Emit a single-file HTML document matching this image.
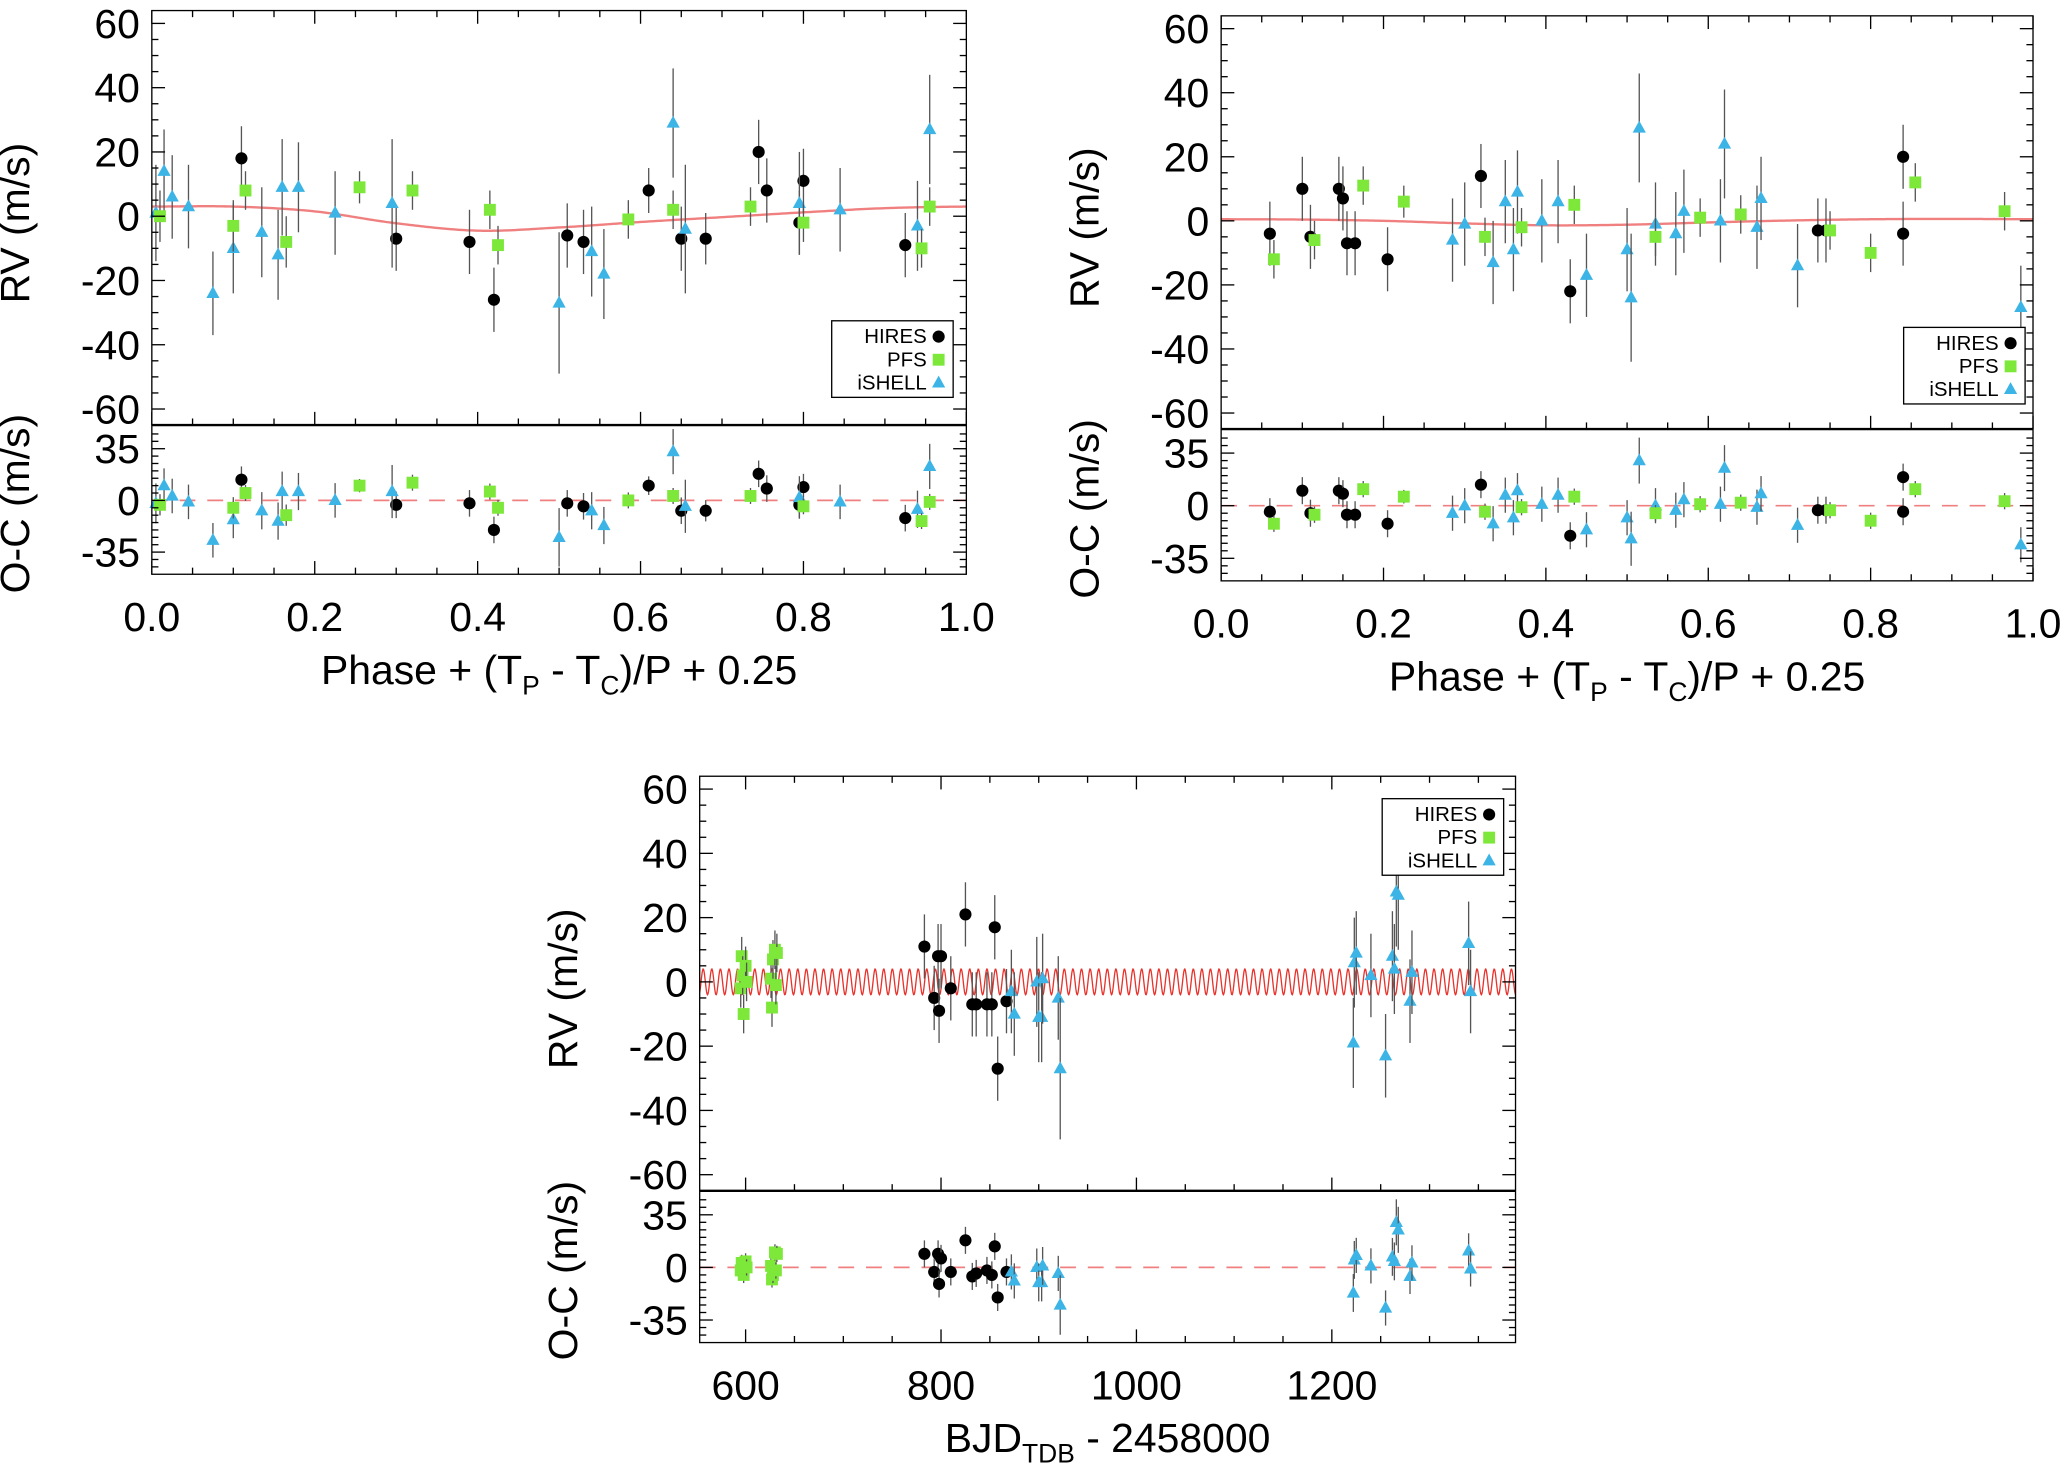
<!DOCTYPE html>
<html><head><meta charset="utf-8"><style>
html,body{margin:0;padding:0;background:#fff}
svg{display:block}
text{font-family:"Liberation Sans",Arial,sans-serif;fill:#000}
</style></head><body>
<svg id="fig" width="2070" height="1466" viewBox="0 0 1568 1110.5" xmlns="http://www.w3.org/2000/svg"></svg>
<script>
// ---- Panel 1 data (phase folded, planet b) ----
const p1HiresX=[0.11,0.30,0.39,0.42,0.51,0.53,0.61,0.65,0.68,0.745,0.755,0.795,0.80,0.925];
const p1HiresY=[18,-7,-8,-26,-6,-8,8,-7,-7,20,8,-2,11,-9];
const p1HiresE=[10,10,10,10,10,10,7,10,8,10,10,10,10,10];
const p1HiresOC=[14,-3,-2,-20,-2,-4,10,-7,-7,18,8,-3,9,-12];
const p1PfsX=[0.01,0.10,0.115,0.165,0.255,0.32,0.415,0.425,0.585,0.64,0.735,0.80,0.945,0.955];
const p1PfsY=[0,-3,8,-8,9,8,2,-9,-1,2,3,-2,-10,3];
const p1PfsE=[8,8,6,8,5,6,6,6,6,6,6,6,6,6];
const p1PfsOC=[-3,-5,5,-10,10,12,6,-5,0,3,3,-4,-14,-1];
const p1IshX=[0.005,0.015,0.025,0.045,0.075,0.10,0.135,0.155,0.16,0.18,0.225,0.295,0.50,0.54,0.555,0.64,0.655,0.795,0.845,0.94,0.955];
const p1IshY=[1,14,6,3,-24,-10,-5,-12,9,9,1,4,-27,-11,-18,29,-4,4,2,-3,27];
const p1IshE=[15,13,13,13,13,14,14,14,15,14,13,20,22,14,14,17,20,16,13,14,17];
const p1IshOC=[-2,10,3,-1,-27,-13,-7,-14,6,6,0,6,-25,-7,-17,33,-4,2,-1,-6,23];
const p1ModelX=[0,0.1,0.2,0.3,0.4,0.5,0.6,0.7,0.8,0.9,1.0];
const p1ModelY=[3,3,1.5,-2.2,-4.5,-3.5,-1.8,-0.3,1.2,2.5,3];
// ---- Panel 2 data (phase folded, planet c) ----
const p2HiresX=[0.06,0.10,0.11,0.145,0.15,0.155,0.165,0.205,0.32,0.43,0.735,0.745,0.84,0.84];
const p2HiresY=[-4,10,-5,10,7,-7,-7,-12,14,-22,-3,-3,20,-4];
const p2HiresE=[10,10,10,10,10,10,10,10,10,10,10,10,10,10];
const p2HiresOC=[-4,10,-5,10,8,-6,-6,-12,14,-20,-3,-3,19,-4];
const p2PfsX=[0.065,0.115,0.175,0.225,0.325,0.37,0.435,0.535,0.59,0.64,0.75,0.80,0.855,0.965];
const p2PfsY=[-12,-6,11,6,-5,-2,5,-5,1,2,-3,-10,12,3];
const p2PfsE=[6,6,6,5,6,6,6,6,6,6,6,6,6,6];
const p2PfsOC=[-12,-6,11,6,-4,-1,6,-5,1,2,-3,-10,11,3];
const p2IshX=[0.285,0.30,0.335,0.35,0.36,0.365,0.395,0.415,0.45,0.50,0.505,0.515,0.535,0.56,0.57,0.615,0.62,0.66,0.665,0.71,0.985];
const p2IshY=[-6,-1,-13,6,-9,9,0,6,-17,-9,-24,29,-1,-4,3,0,24,-2,7,-14,-27];
const p2IshE=[13,13,13,13,13,13,13,13,13,13,20,17,13,13,13,13,17,13,13,13,13];
const p2IshOC=[-5,0,-12,7,-8,10,1,7,-16,-8,-22,30,0,-3,4,1,25,-1,8,-13,-26];
const p2ModelX=[0,0.1,0.2,0.3,0.4,0.5,0.6,0.7,0.8,0.9,1.0];
const p2ModelY=[0.5,0.4,0,-0.8,-1.4,-1.2,-0.5,0.1,0.5,0.6,0.5];
// ---- Panel 3 data (time series) ----
const p3HiresX=[783,793,797,798,800,810,825,832,836,847,852,855,858,867];
const p3HiresY=[11,-5,8,-9,8,-2,21,-7,-7,-7,-7,17,-27,-6];
const p3HiresE=[10,10,10,10,10,10,10,10,10,10,10,10,10,10];
const p3HiresOC=[9,-3,9,-11,6,-3,18,-6,-4,-2,-5,14,-20,-3];
const p3PfsX=[595,596,597,598,600,601,626,627,628,630,631,632];
const p3PfsY=[-2,8,2,-10,5,0,1,-8,7,10,-1,9];
const p3PfsE=[6,6,6,6,6,6,6,6,6,6,6,6];
const p3PfsOC=[-2,3,1,-5,4,0,1,-8,-5,10,-2,9];
const p3IshX=[872,875,898,900,903,904,920,922,1222,1223,1225,1240,1255,1262,1264,1266,1268,1280,1282,1340,1342];
const p3IshY=[-3,-10,0,-11,-11,1,-5,-27,-19,6,9,2,-23,8,4,28,27,-6,3,12,-3];
const p3IshE=[13,13,14,14,14,14,13,22,14,14,13,13,13,14,14,17,17,13,13,13,13];
const p3IshOC=[-3,-9,0,-10,-10,1,-4,-25,-17,5,8,1,-27,7,4,30,25,-6,3,11,-1];
const p3ModelK=[4];
const p3ModelP=[8.8];

const NS="http://www.w3.org/2000/svg";
const svg=document.getElementById('fig');
function mk(tag,attrs,parent){const e=document.createElementNS(NS,tag);for(const k in attrs)e.setAttribute(k,attrs[k]);(parent||svg).appendChild(e);return e;}

function marker(g,type,x,y){
  let m;
  if(type==='hires'){m=mk('circle',{cx:x,cy:y,r:4.6,fill:'#000'},g);}
  else if(type==='pfs'){m=mk('rect',{x:x-4.5,y:y-4.5,width:9,height:9,fill:'#7de83a'},g);}
  else {m=mk('polygon',{points:`${x},${y-5.5} ${x+5},${y+3.5} ${x-5},${y+3.5}`,fill:'#3cb4e6'},g);}
  return m;
}

function panel(cfg){
  const g=mk('g',{});
  
  
  const L=cfg.L,R=cfg.R,T=cfg.T,M=cfg.M,B=cfg.B;
  const sx=v=>L+(v-cfg.x0)/(cfg.x1-cfg.x0)*(R-L);
  const sy=v=>T+(cfg.y1-v)/(cfg.y1-cfg.y0)*(M-T);
  const so=v=>M+(cfg.o1-v)/(cfg.o1-cfg.o0)*(B-M);
  // model
  const mg=mk('g',{},g);
  
  
  const cp=mk('clipPath',{id:cfg.name+'-clip'},svg);
  mk('rect',{x:L,y:T,width:R-L,height:M-T},cp);
  let d='';
  if(cfg.modelX){
    for(let i=0;i<=300;i++){
      const x=cfg.x0+(cfg.x1-cfg.x0)*i/300;
      // cubic interpolation through sampled model points
      const mx=cfg.modelX,my=cfg.modelY;let k=0;while(k<mx.length-2&&x>mx[k+1])k++;
      const t=(x-mx[k])/(mx[k+1]-mx[k]);
      const p0=my[Math.max(k-1,0)],p1=my[k],p2=my[k+1],p3=my[Math.min(k+2,my.length-1)];
      const y=0.5*((2*p1)+(-p0+p2)*t+(2*p0-5*p1+4*p2-p3)*t*t+(-p0+3*p1-3*p2+p3)*t*t*t);
      d+=(i?'L':'M')+sx(x).toFixed(2)+','+sy(y).toFixed(2);
    }
  } else {
    const K=p3ModelK[0],P=p3ModelP[0];
    for(let x=cfg.x0;x<=cfg.x1;x+=0.5){
      d+=(x===cfg.x0?'M':'L')+sx(x).toFixed(2)+','+sy(K*Math.sin(2*Math.PI*x/P)).toFixed(2);
    }
  }
  mk('path',{d:d,fill:'none',stroke:cfg.modelX?'#f08080':'#e8322c','stroke-width':cfg.modelX?1.8:1,'clip-path':`url(#${cfg.name}-clip)`},mg);
  // zero dashed in OC
  const zl=mk('line',{x1:L,x2:R,y1:so(0),y2:so(0),stroke:'#f08080','stroke-width':1.3,'stroke-dasharray':'12,9'},g);
  
  
  // series
  const series=[['hires',cfg.hX,cfg.hY,cfg.hE,cfg.hO],['ishell',cfg.iX,cfg.iY,cfg.iE,cfg.iO],['pfs',cfg.pX,cfg.pY,cfg.pE,cfg.pO]];
  series.forEach(s=>{
    const sg=mk('g',{},g);
    
    
    for(let i=0;i<s[1].length;i++){
      const x=sx(s[1][i]);
      mk('line',{x1:x,x2:x,y1:Math.max(T,sy(s[2][i]+s[3][i])),y2:Math.min(M,sy(s[2][i]-s[3][i])),stroke:'#555','stroke-width':1},sg);
      mk('line',{x1:x,x2:x,y1:Math.max(M,so(s[4][i]+s[3][i]*0.9)),y2:Math.min(B,so(s[4][i]-s[3][i]*0.9)),stroke:'#555','stroke-width':1},sg);
      const m=marker(sg,s[0],x,sy(s[2][i]));
      
      
      const m2=marker(sg,s[0],x,so(s[4][i]));
      
      
    }
  });
  // frames
  mk('rect',{x:L,y:T,width:R-L,height:B-T,fill:'none',stroke:'#000','stroke-width':1},g);
  mk('line',{x1:L,x2:R,y1:M,y2:M,stroke:'#000','stroke-width':1.8},g);
  // y ticks RV
  for(let v=-60;v<=60;v+=5){const y=sy(v);if(y<T||y>M)continue;const len=v%20===0?10:5;
    mk('line',{x1:L,x2:L+len,y1:y,y2:y,stroke:'#000'},g);mk('line',{x1:R,x2:R-len,y1:y,y2:y,stroke:'#000'},g);}
  [60,40,20,0,-20,-40,-60].forEach(v=>{const t=mk('text',{x:L-9,y:sy(v)+11,'font-size':31,'text-anchor':'end'},g);t.textContent=v;
    });
  for(let v=-45;v<=45;v+=5){const y=so(v);if(y<=M||y>B)continue;const len=v%35===0?10:5;
    mk('line',{x1:L,x2:L+len,y1:y,y2:y,stroke:'#000'},g);mk('line',{x1:R,x2:R-len,y1:y,y2:y,stroke:'#000'},g);}
  [35,0,-35].forEach(v=>{const t=mk('text',{x:L-9,y:so(v)+11,'font-size':31,'text-anchor':'end'},g);t.textContent=v;
    });
  // x ticks
  for(let v=cfg.xMinorStart;v<=cfg.x1+1e-9;v+=cfg.xMinor){const x=sx(v);if(x<L-0.1||x>R+0.1)continue;
    const major=Math.abs(Math.round(v/cfg.xMajor)*cfg.xMajor-v)<1e-6;const len=major?10:5;
    mk('line',{x1:x,x2:x,y1:B,y2:B-len,stroke:'#000'},g);mk('line',{x1:x,x2:x,y1:M,y2:M-len,stroke:'#000'},g);mk('line',{x1:x,x2:x,y1:T,y2:T+len,stroke:'#000'},g);}
  cfg.xLabels.forEach(v=>{const t=mk('text',{x:sx(v),y:B+43,'font-size':31,'text-anchor':'middle'},g);t.textContent=cfg.fmt(v);
    });
  // axis titles
  let t=mk('text',{x:0,y:0,'font-size':31,'text-anchor':'middle',transform:`translate(${L-93},${(T+M)/2+4}) rotate(-90)`},g);
  t.textContent='RV (m/s)';
  t=mk('text',{x:0,y:0,'font-size':31,'text-anchor':'middle',transform:`translate(${L-93},${(M+B)/2+3}) rotate(-90)`},g);
  t.textContent='O-C (m/s)';
  t=mk('text',{x:(L+R)/2,y:B+83,'font-size':31,'text-anchor':'middle'},g);
  t.innerHTML=cfg.xtitle;
  // legend
  const lg=mk('g',{},g);
  
  
  const lx=cfg.legX,ly=cfg.legY;
  mk('rect',{x:lx,y:ly,width:92,height:58,fill:'#fff',stroke:'#000','stroke-width':1},lg);
  [['HIRES','hires'],['PFS','pfs'],['iSHELL','ishell']].forEach((e,i)=>{
    const tt=mk('text',{x:lx+72,y:ly+17+i*17.5,'font-size':15.5,'text-anchor':'end'},lg);tt.textContent=e[0];
    
    marker(lg,e[1],lx+81,ly+12+i*17.5);
  });
}

const phaseTitle='Phase + (T<tspan font-size="20" dy="8">P</tspan><tspan dy="-8"> - T</tspan><tspan font-size="20" dy="8">C</tspan><tspan dy="-8">)/P + 0.25</tspan>';
panel({name:'panel-b-phase',L:115,R:732,T:8,M:322,B:435,x0:0,x1:1,y0:-65,y1:64,o0:-50,o1:51,
  xMajor:0.2,xMinor:0.05,xMinorStart:0,xLabels:[0,0.2,0.4,0.6,0.8,1.0],fmt:v=>v.toFixed(1),xtitle:phaseTitle,
  hX:p1HiresX,hY:p1HiresY,hE:p1HiresE,hO:p1HiresOC,pX:p1PfsX,pY:p1PfsY,pE:p1PfsE,pO:p1PfsOC,iX:p1IshX,iY:p1IshY,iE:p1IshE,iO:p1IshOC,
  modelX:p1ModelX,modelY:p1ModelY,legX:630,legY:243});
panel({name:'panel-c-phase',L:925,R:1540,T:12,M:325,B:440,x0:0,x1:1,y0:-65,y1:64,o0:-50,o1:51,
  xMajor:0.2,xMinor:0.05,xMinorStart:0,xLabels:[0,0.2,0.4,0.6,0.8,1.0],fmt:v=>v.toFixed(1),xtitle:phaseTitle,
  hX:p2HiresX,hY:p2HiresY,hE:p2HiresE,hO:p2HiresOC,pX:p2PfsX,pY:p2PfsY,pE:p2PfsE,pO:p2PfsOC,iX:p2IshX,iY:p2IshY,iE:p2IshE,iO:p2IshOC,
  modelX:p2ModelX,modelY:p2ModelY,legX:1442,legY:248});
panel({name:'panel-time-series',L:530,R:1148,T:588,M:902,B:1017,x0:553,x1:1388,y0:-65,y1:64,o0:-50,o1:51,
  xMajor:200,xMinor:50,xMinorStart:600,xLabels:[600,800,1000,1200],fmt:v=>String(v),
  xtitle:'BJD<tspan font-size="20" dy="8">TDB</tspan><tspan dy="-8"> - 2458000</tspan>',
  hX:p3HiresX,hY:p3HiresY,hE:p3HiresE,hO:p3HiresOC,pX:p3PfsX,pY:p3PfsY,pE:p3PfsE,pO:p3PfsOC,iX:p3IshX,iY:p3IshY,iE:p3IshE,iO:p3IshOC,
  modelX:null,legX:1047,legY:605});
</script>
</body></html>
